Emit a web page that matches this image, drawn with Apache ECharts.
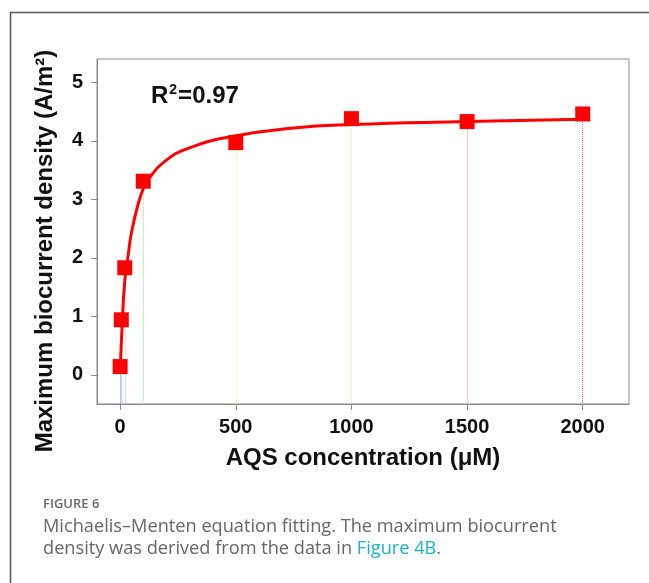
<!DOCTYPE html>
<html>
<head>
<meta charset="utf-8">
<script src="https://cdn.jsdelivr.net/npm/echarts@6/dist/echarts.min.js"></script>
<style>
  html, body { margin: 0; padding: 0; background: #fff; }
  #chart { width: 649px; height: 583px; }
</style>
</head>
<body>
<div id="chart"></div>
<script>
// ---- data ----
const concentrations = [0, 5, 20, 100, 500, 1000, 1500, 2000];          // AQS (µM)
const biocurrent     = [0.14, 0.94, 1.83, 3.31, 3.97, 4.38, 4.33, 4.46]; // A/m²
const dropColors     = ['#8b7dff', '#7fb0ff', '#8fdcff', '#8ef08e', '#e6f27a', '#ffe27a', '#ff8f8f', '#ff6b6b'];
const fitX = [0, 10, 20, 35, 50, 80, 100, 120, 190, 300, 490, 750, 1000, 1500, 2000];
const fitY = [0.05, 0.94, 1.6, 2.05, 2.45, 2.95, 3.18, 3.33, 3.64, 3.88, 4.08, 4.22, 4.28, 4.33, 4.37];
const xTicks = [0, 500, 1000, 1500, 2000];
const yTicks = [0, 1, 2, 3, 4, 5];
const xTitle = 'AQS concentration (μM)';
const yTitle = 'Maximum biocurrent density (A/m²)';

const FONT = "'Liberation Sans', Arial, sans-serif";
const yMin = -0.5, yMax = 5.4, xMin = -100, xMax = 2200;

const chart = echarts.init(document.getElementById('chart'), null, { renderer: 'canvas' });

const pts = concentrations.map((x, i) => [x, biocurrent[i]]);
const fit = fitX.map((x, i) => [x, fitY[i]]);
const drops = concentrations.map((x, i) => [
  { coord: [x, biocurrent[i]], lineStyle: { color: dropColors[i], type: 'dotted', width: 1 } },
  { coord: [x, yMin] }
]);

chart.setOption({
  animation: false,
  backgroundColor: '#fff',
  grid: { left: 97, top: 59, right: 20, bottom: 179, containLabel: false,
          show: true, borderColor: '#8a8a8a', borderWidth: 1 },
  xAxis: {
    type: 'value', min: xMin, max: xMax,
    name: xTitle, nameLocation: 'middle', nameGap: 42,
    nameTextStyle: { fontFamily: FONT, fontWeight: 'bold', fontSize: 24, color: '#111' },
    axisLine: { show: true, onZero: false, lineStyle: { color: '#8a8a8a', width: 1 } },
    axisTick: { show: true, length: 6, lineStyle: { color: '#8a8a8a' }, customValues: xTicks },
    axisLabel: { fontFamily: FONT, fontWeight: 'bold', fontSize: 20, color: '#111', margin: 13,
                 customValues: xTicks, formatter: v => String(v) },
    splitLine: { show: false }
  },
  yAxis: {
    type: 'value', min: yMin, max: yMax,
    axisLine: { show: true, onZero: false, lineStyle: { color: '#8a8a8a', width: 1 } },
    axisTick: { show: true, length: 6, lineStyle: { color: '#8a8a8a' }, customValues: yTicks },
    axisLabel: { fontFamily: FONT, fontWeight: 'bold', fontSize: 20, color: '#111', margin: 14,
                 customValues: yTicks, formatter: v => String(v) },
    splitLine: { show: false }
  },
  series: [
    {
      type: 'scatter', data: pts, symbol: 'rect', symbolSize: 15,
      itemStyle: { color: '#ff0000', opacity: 1 }, z: 4,
      markLine: { silent: true, symbol: ['none', 'none'], label: { show: false },
                  animation: false, data: drops, z: 1 }
    },
    {
      type: 'line', data: fit, smooth: 0.5, showSymbol: false,
      lineStyle: { color: '#ff0000', width: 3 }, z: 3
    }
  ],
  graphic: [
    { type: 'line', shape: { x1: 10, y1: 12.5, x2: 649, y2: 12.5 }, style: { stroke: '#555', lineWidth: 1.5 } },
    { type: 'line', shape: { x1: 10.5, y1: 12, x2: 10.5, y2: 583 }, style: { stroke: '#555', lineWidth: 1.5 } },
    { type: 'text', x: 45, y: 251, rotation: Math.PI / 2,
      style: { text: yTitle, font: "bold 24px 'Liberation Sans', Arial, sans-serif", fill: '#111',
               align: 'center', verticalAlign: 'middle' } },
    { type: 'text', x: 151, y: 96,
      style: { text: '{r|R}{s|2}{r|=0.97}', verticalAlign: 'middle',
               rich: {
                 r: { fontFamily: FONT, fontWeight: 'bold', fontSize: 24, fill: '#111', color: '#111', lineHeight: 26 },
                 s: { fontFamily: FONT, fontWeight: 'bold', fontSize: 14, fill: '#111', color: '#111', verticalAlign: 'top', lineHeight: 26, padding: [0, 1, 0, 1] }
               } } },
    { type: 'text', x: 43, y: 504,
      style: { text: 'FIGURE 6', font: "600 13px 'Open Sans', sans-serif", fill: '#666', verticalAlign: 'middle' } },
    { type: 'text', x: 43, y: 527,
      style: { text: 'Michaelis–Menten equation fitting. The maximum biocurrent',
               font: "18.2px 'Open Sans', sans-serif", fill: '#666', verticalAlign: 'middle' } },
    { type: 'text', x: 43, y: 549,
      style: { text: '{a|density was derived from the data in }{b|Figure 4B}{a|.}',
               verticalAlign: 'middle',
               rich: {
                 a: { fontFamily: "'Open Sans', sans-serif", fontSize: 18.2, fill: '#666', color: '#666' },
                 b: { fontFamily: "'Open Sans', sans-serif", fontSize: 18.2, fill: '#1ab3c9', color: '#1ab3c9' }
               } } }
  ]
});
</script>
</body>
</html>
